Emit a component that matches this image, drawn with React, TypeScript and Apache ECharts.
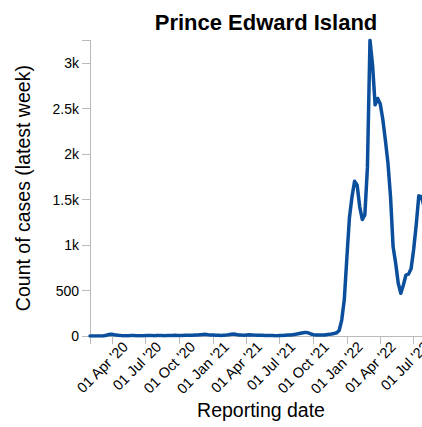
import React, { useEffect, useRef } from "react";
import * as echarts from "echarts";

const TITLE = "Prince Edward Island";
const X_NAME = "Reporting date";
const Y_NAME = "Count of cases (latest week)";

// weekly reporting dates start here (one value per week)
const START_DATE = "2020-02-01";
const X_MIN_DATE = "2020-02-01";
const X_MAX_DATE = "2022-08-21";

const weeklyCases = [
  0, 0, 0, 0, 0, 0, 5, 14, 20, 16,
  10, 7, 5, 4, 3, 3, 5, 6, 4, 3,
  3, 4, 5, 6, 5, 4, 5, 6, 5, 4,
  5, 5, 6, 7, 6, 5, 6, 7, 8, 9,
  8, 10, 12, 14, 16, 18, 14, 12, 10, 8,
  7, 6, 8, 10, 14, 20, 22, 16, 12, 10,
  9, 12, 14, 12, 10, 9, 8, 7, 6, 6,
  5, 5, 4, 4, 5, 6, 8, 10, 12, 15,
  18, 24, 30, 36, 40, 34, 22, 15, 12, 10,
  10, 12, 15, 18, 22, 28, 35, 60, 175, 400,
  860, 1300, 1530, 1700, 1660, 1420, 1280, 1330, 1850, 3250,
  2980, 2540, 2610, 2550, 2380, 2150, 1900, 1530, 980, 800,
  580, 470, 560, 670, 680, 740, 950, 1220, 1540, 1530,
  1430, 1330, 1260, 1200,
];

const xTickDates = [
  "2020-04-01", "2020-07-01", "2020-10-01", "2021-01-01", "2021-04-01",
  "2021-07-01", "2021-10-01", "2022-01-01", "2022-04-01", "2022-07-01",
];
const yTickValues = [0, 500, 1000, 1500, 2000, 2500, 3000];
const Y_MAX = 3250;

// rotated date labels hang to the right of their tick (as in the reference)
const LABEL_SHIFT_DAYS = 22;

const MONTHS = ["Jan", "Feb", "Mar", "Apr", "May", "Jun", "Jul", "Aug", "Sep", "Oct", "Nov", "Dec"];
const DAY = 86400000;
const toMs = (s: string) => {
  const [y, m, d] = s.split("-").map(Number);
  return Date.UTC(y, m - 1, d);
};
const fmtDate = (ms: number) => {
  const d = new Date(ms);
  const dd = String(d.getUTCDate()).padStart(2, "0");
  const yy = String(d.getUTCFullYear() % 100).padStart(2, "0");
  return `${dd} ${MONTHS[d.getUTCMonth()]} '${yy}`;
};
const fmtY = (v: number) => (v === 0 ? "0" : v >= 1000 ? `${v / 1000}k` : String(v));

export default function App() {
  const ref = useRef<HTMLDivElement>(null);
  useEffect(() => {
    if (!ref.current) return;
    const chart = echarts.init(ref.current, undefined, { renderer: "svg" });
    const start = toMs(START_DATE);
    const data = weeklyCases.map((v, i) => [start + i * 7 * DAY, v]);
    const xMin = toMs(X_MIN_DATE);
    const xMax = toMs(X_MAX_DATE);
    const xTicks = xTickDates.map(toMs);
    const shift = LABEL_SHIFT_DAYS * DAY;
    const xLabelValues = xTicks.map((t) => t + shift);
    const font = "'Liberation Sans', Arial, sans-serif";
    chart.setOption({
      animation: false,
      textStyle: { fontFamily: font },
      title: {
        text: TITLE,
        left: 261,
        textAlign: "center",
        top: 6,
        textStyle: { fontFamily: font, fontSize: 22, fontWeight: "bold", color: "#000" },
      },
      grid: { left: 90, right: 8, top: 40.25, bottom: 91, containLabel: false, outerBoundsMode: "none" },
      xAxis: {
        type: "value",
        min: xMin,
        max: xMax,
        name: X_NAME,
        nameLocation: "middle",
        nameGap: 64,
        nameMoveOverlap: false,
        nameTextStyle: { fontFamily: font, fontSize: 19.5, color: "#000" },
        splitLine: { show: false },
        axisLine: { show: true, lineStyle: { color: "#bbb", width: 1 } },
        axisTick: { show: true, length: 8, lineStyle: { color: "#bbb" }, customValues: [xMin, ...xTicks, xMax] },
        axisLabel: {
          customValues: xLabelValues,
          formatter: (v: number) => fmtDate(v - shift),
          rotate: 45,
          align: "right",
          verticalAlign: "top",
          margin: 3,
          showMinLabel: true,
          showMaxLabel: true,
          hideOverlap: false,
          fontFamily: font,
          fontSize: 14.5,
          color: "#000",
        },
      },
      yAxis: {
        type: "value",
        min: 0,
        max: Y_MAX,
        name: Y_NAME,
        nameLocation: "middle",
        nameGap: 57,
        nameMoveOverlap: false,
        nameTextStyle: { fontFamily: font, fontSize: 19.5, color: "#000" },
        splitLine: { show: false },
        axisLine: { show: true, lineStyle: { color: "#bbb", width: 1 } },
        axisTick: { show: true, length: 8, lineStyle: { color: "#bbb" }, customValues: [...yTickValues, Y_MAX] },
        axisLabel: {
          customValues: yTickValues,
          formatter: (v: number) => fmtY(v),
          margin: 11,
          fontFamily: font,
          fontSize: 14,
          color: "#000",
        },
      },
      series: [
        {
          type: "line",
          data,
          showSymbol: false,
          symbol: "none",
          clip: true,
          lineStyle: { color: "#0b4f9c", width: 3.5, join: "round", cap: "round" },
        },
      ],
    });
    return () => chart.dispose();
  }, []);
  return (
    <div style={{ position: "fixed", left: 0, top: 0, width: 422, height: 427, overflow: "hidden", background: "#fff" }}>
      <div ref={ref} style={{ width: 440, height: 427 }} />
    </div>
  );
}
